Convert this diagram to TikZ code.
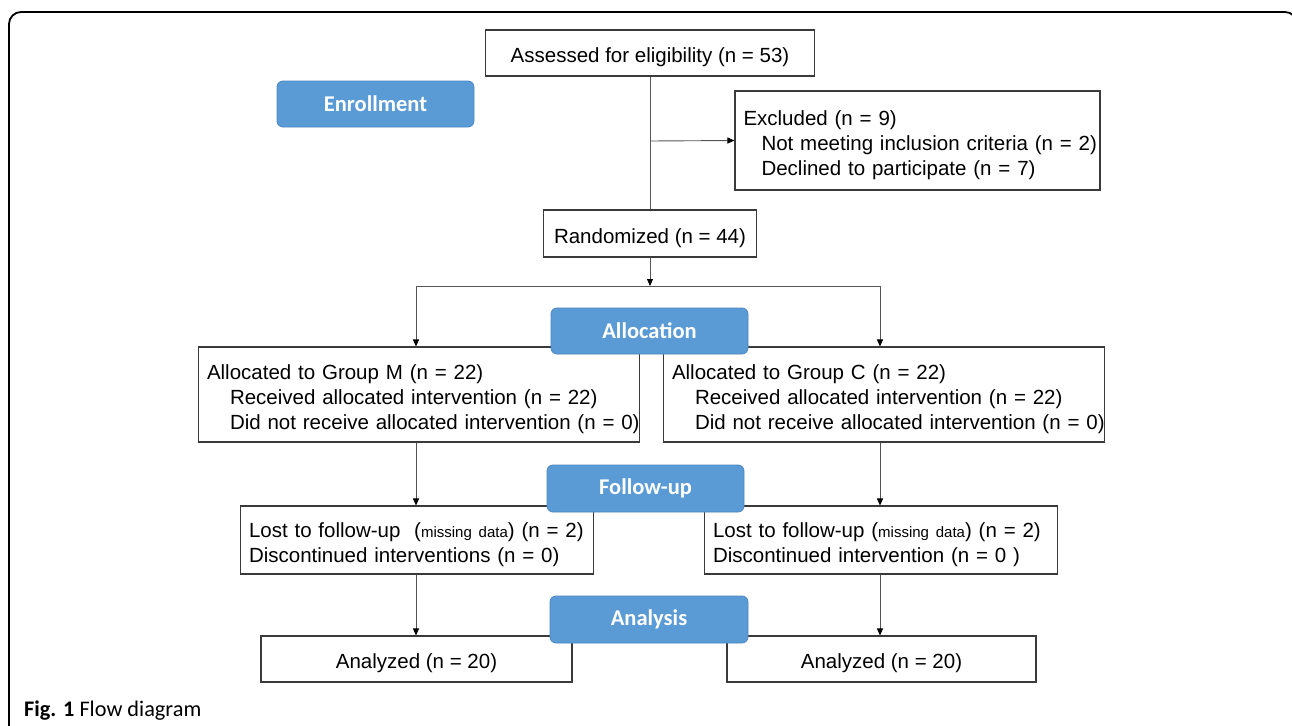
\documentclass[tikz,border=0pt]{standalone}
\usepackage{fontspec}
\setmainfont{Liberation Sans}
\newfontfamily\carl{Carlito}
\usetikzlibrary{arrows.meta}
\definecolor{phaseblue}{HTML}{5B9BD5}
\definecolor{phaseedge}{HTML}{4A86C2}
\definecolor{boxline}{HTML}{3A3A3A}
\definecolor{connline}{HTML}{555555}
\newcommand{\topstrut}{\rule{0pt}{23.5pt}}
\begin{document}
\begin{tikzpicture}[x=1pt,y=-1pt,
  box/.style={draw=boxline, line width=1.1pt, fill=white, inner xsep=8.5pt, inner ysep=0pt,
    font=\fontsize{20.5}{25}\selectfont},
  cbox/.style={box, align=center},
  lbox/.style={box, align=left},
  phase/.style={draw=phaseedge, line width=0.8pt, fill=phaseblue, rounded corners=6pt, text=white,
    font=\carl\bfseries\fontsize{22.5}{27}\selectfont, minimum width=197pt, minimum height=46pt, inner sep=0pt},
  conn/.style={draw=connline, line width=0.9pt},
  arr/.style={conn, -{Triangle[length=7pt,width=6pt,color=black]}}
]
\useasboundingbox (0,0) rectangle (1292,725);
\clip (0,0) rectangle (1292,725);
\draw[line width=1.8pt, rounded corners=12pt] (9,780) -- (9,12) -- (1297,12) -- (1297,780);

% boxes
\node[cbox, minimum width=329pt, minimum height=46pt] (assess) at (650,53) {\topstrut Assessed for eligibility (n = 53)};
\node[lbox, text width=348pt, minimum height=99pt] (excl) at (917.5,140.5)
  {\mbox{\topstrut Excluded (n = 9)}\\\mbox{\hspace*{18pt}Not meeting inclusion criteria (n = 2)}\\\mbox{\hspace*{18pt}Declined to participate (n = 7)}};
\node[cbox, minimum width=213pt, minimum height=47pt] (rand) at (650,233.5) {\topstrut Randomized (n = 44)};

\node[lbox, text width=424pt, minimum height=95pt] (gm) at (419,394.5)
  {\mbox{\topstrut Allocated to Group M (n = 22)}\\\mbox{\hspace*{23pt}Received allocated intervention (n = 22)}\\\mbox{\hspace*{23pt}Did not receive allocated intervention (n = 0)}};
\node[lbox, text width=424pt, minimum height=95pt] (gc) at (884,394.5)
  {\mbox{\topstrut Allocated to Group C (n = 22)}\\\mbox{\hspace*{23pt}Received allocated intervention (n = 22)}\\\mbox{\hspace*{23pt}Did not receive allocated intervention (n = 0)}};

\node[lbox, text width=336pt, minimum height=68pt] (fm) at (417,540)
  {\mbox{\topstrut Lost to follow-up\ \ ({\fontsize{15}{18}\selectfont missing data}) (n = 2)}\\\mbox{Discontinued interventions (n = 0)}};
\node[lbox, text width=336pt, minimum height=68pt] (fc) at (881,540)
  {\mbox{\topstrut Lost to follow-up ({\fontsize{15}{18}\selectfont missing data}) (n = 2)}\\\mbox{Discontinued intervention (n = 0 )}};

\node[cbox, minimum width=311pt, minimum height=46pt] (am) at (416.5,659) {\topstrut Analyzed (n = 20)};
\node[cbox, minimum width=309pt, minimum height=46pt] (ac) at (881.5,659) {\topstrut Analyzed (n = 20)};

% column coordinates
\coordinate (xl) at (416,0);
\coordinate (xr) at (880,0);
\coordinate (br) at (650,141);
\coordinate (split) at (650,286);
\coordinate (splitL) at (416,286);
\coordinate (splitR) at (880,286);

% connectors
\draw[conn] (assess.south) -- (rand.north);
\draw[arr] (br) -- (excl.west);
\draw[arr] (rand.south) -- (split);
\draw[conn] (splitL) -- (splitR);
\draw[arr] (splitL) -- (gm.north -| xl);
\draw[arr] (splitR) -- (gc.north -| xr);
\draw[arr] (gm.south -| xl) -- (fm.north -| xl);
\draw[arr] (gc.south -| xr) -- (fc.north -| xr);
\draw[arr] (fm.south -| xl) -- (am.north -| xl);
\draw[arr] (fc.south -| xr) -- (ac.north -| xr);

% phase labels
\node[phase] (enroll) at (375.5,104) {Enrollment};
\node[phase] (alloc) at (649.5,331) {Allocation};
\node[phase, minimum height=47pt] (follow) at (645.5,488.5) {Follow-up};
\node[phase, minimum width=198pt, minimum height=47pt] (analysis) at (649,619.5) {Analysis};

% caption
\node[anchor=base west, inner sep=0pt, font=\carl\fontsize{22.3}{25}\selectfont] (cap) at (24,716) {\textbf{Fig. 1} Flow diagram};
\end{tikzpicture}
\end{document}
